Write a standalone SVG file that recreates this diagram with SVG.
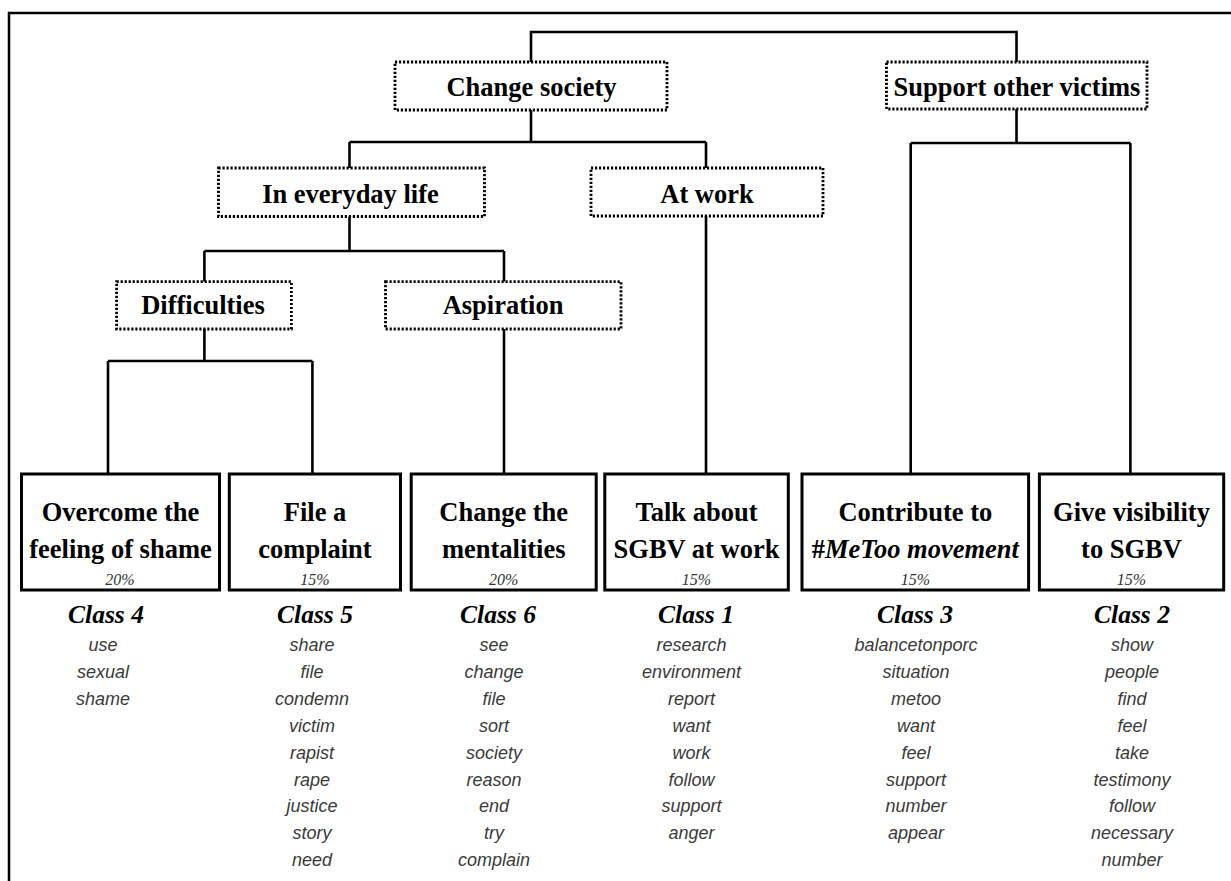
<svg xmlns="http://www.w3.org/2000/svg" width="1231" height="881" viewBox="0 0 1231 881">
<style>
.frame{fill:none;stroke:#000;stroke-width:2.5}
.con path{fill:none;stroke:#000;stroke-width:2.6}
.dot{fill:#fff;stroke:#000;stroke-width:2.8;stroke-dasharray:2.2 1.8}
.box{fill:#fff;stroke:#000;stroke-width:3}
.t{font-family:"Liberation Serif","Times New Roman",serif;font-weight:bold;font-size:26.5px;text-anchor:middle;fill:#000}
.pct{font-family:"Liberation Serif","Times New Roman",serif;font-style:italic;font-size:16px;text-anchor:middle;fill:#333}
.cls{font-family:"Liberation Serif","Times New Roman",serif;font-weight:bold;font-style:italic;font-size:25.5px;text-anchor:middle;fill:#000}
.w{font-family:"Liberation Sans",Arial,sans-serif;font-style:italic;font-size:18px;text-anchor:middle;fill:#3a3a3a}
</style>
<rect width="1231" height="881" fill="#fff"/>
<path class="frame" d="M9,881 V13 H1231"/>
<g id="connectors" class="con">
<path d="M531,62 V32 H1016.5 V62"/>
<path d="M531,110 V142 M349.5,142 H706 M349.5,142 V168 M706,142 V168"/>
<path d="M1016.5,109 V143 M910.7,143 H1130.4 M910.7,143 V474 M1130.4,143 V474"/>
<path d="M706,216 V474"/>
<path d="M349.5,216.5 V251 M204.4,251 H504 M204.4,251 V281.7 M504,251 V281.7"/>
<path d="M204.4,329 V361 M108,361 H312.4 M108,361 V474 M312.4,361 V474"/>
<path d="M504,329 V474"/>
</g>
<g id="change-society"><rect class="dot" x="395" y="62" width="272" height="48"/><text class="t" x="531.5" y="96">Change society</text></g>
<g id="support-other-victims"><rect class="dot" x="886.5" y="62" width="260.5" height="47"/><text class="t" x="1017" y="96">Support other victims</text></g>
<g id="in-everyday-life"><rect class="dot" x="218.5" y="168" width="266" height="48.5"/><text class="t" x="350.5" y="203">In everyday life</text></g>
<g id="at-work"><rect class="dot" x="591" y="168" width="232" height="48"/><text class="t" x="707" y="203">At work</text></g>
<g id="difficulties"><rect class="dot" x="116.6" y="281.7" width="174.8" height="47.3"/><text class="t" x="203" y="314">Difficulties</text></g>
<g id="aspiration"><rect class="dot" x="385.5" y="281.7" width="235.5" height="47.3"/><text class="t" x="503" y="314">Aspiration</text></g>
<g id="class4">
<rect class="box" x="21.5" y="474" width="198" height="116"/>
<text class="t" x="120.5" y="521">Overcome the</text><text class="t" x="120.5" y="558">feeling of shame</text>
<text class="pct" x="120" y="585">20%</text>
<text class="cls" x="106" y="623">Class 4</text>
<text class="w" x="103" y="651"><tspan x="103">use</tspan><tspan x="103" dy="26.9">sexual</tspan><tspan x="103" dy="26.9">shame</tspan></text>
</g>
<g id="class5">
<rect class="box" x="229.3" y="474" width="171.2" height="116"/>
<text class="t" x="315" y="521">File a</text><text class="t" x="315" y="558">complaint</text>
<text class="pct" x="315" y="585">15%</text>
<text class="cls" x="315" y="623">Class 5</text>
<text class="w" x="312" y="651"><tspan x="312">share</tspan><tspan x="312" dy="26.9">file</tspan><tspan x="312" dy="26.9">condemn</tspan><tspan x="312" dy="26.9">victim</tspan><tspan x="312" dy="26.9">rapist</tspan><tspan x="312" dy="26.9">rape</tspan><tspan x="312" dy="26.9">justice</tspan><tspan x="312" dy="26.9">story</tspan><tspan x="312" dy="26.9">need</tspan></text>
</g>
<g id="class6">
<rect class="box" x="411.2" y="474" width="185" height="116"/>
<text class="t" x="503.7" y="521">Change the</text><text class="t" x="503.7" y="558">mentalities</text>
<text class="pct" x="503.7" y="585">20%</text>
<text class="cls" x="498" y="623">Class 6</text>
<text class="w" x="494" y="651"><tspan x="494">see</tspan><tspan x="494" dy="26.9">change</tspan><tspan x="494" dy="26.9">file</tspan><tspan x="494" dy="26.9">sort</tspan><tspan x="494" dy="26.9">society</tspan><tspan x="494" dy="26.9">reason</tspan><tspan x="494" dy="26.9">end</tspan><tspan x="494" dy="26.9">try</tspan><tspan x="494" dy="26.9">complain</tspan></text>
</g>
<g id="class1">
<rect class="box" x="604.8" y="474" width="183.5" height="116"/>
<text class="t" x="696.5" y="521">Talk about</text><text class="t" x="696.5" y="558">SGBV at work</text>
<text class="pct" x="696.5" y="585">15%</text>
<text class="cls" x="696" y="623">Class 1</text>
<text class="w" x="691.5" y="651"><tspan x="691.5">research</tspan><tspan x="691.5" dy="26.9">environment</tspan><tspan x="691.5" dy="26.9">report</tspan><tspan x="691.5" dy="26.9">want</tspan><tspan x="691.5" dy="26.9">work</tspan><tspan x="691.5" dy="26.9">follow</tspan><tspan x="691.5" dy="26.9">support</tspan><tspan x="691.5" dy="26.9">anger</tspan></text>
</g>
<g id="class3">
<rect class="box" x="802" y="474" width="226.6" height="116"/>
<text class="t" x="915.3" y="521">Contribute to</text><text class="t" x="915.3" y="558">#<tspan font-style="italic">MeToo movement</tspan></text>
<text class="pct" x="915.3" y="585">15%</text>
<text class="cls" x="915" y="623">Class 3</text>
<text class="w" x="916" y="651"><tspan x="916">balancetonporc</tspan><tspan x="916" dy="26.9">situation</tspan><tspan x="916" dy="26.9">metoo</tspan><tspan x="916" dy="26.9">want</tspan><tspan x="916" dy="26.9">feel</tspan><tspan x="916" dy="26.9">support</tspan><tspan x="916" dy="26.9">number</tspan><tspan x="916" dy="26.9">appear</tspan></text>
</g>
<g id="class2">
<rect class="box" x="1039.4" y="474" width="184.3" height="116"/>
<text class="t" x="1131.5" y="521">Give visibility</text><text class="t" x="1131.5" y="558">to SGBV</text>
<text class="pct" x="1131.5" y="585">15%</text>
<text class="cls" x="1132" y="623">Class 2</text>
<text class="w" x="1132" y="651"><tspan x="1132">show</tspan><tspan x="1132" dy="26.9">people</tspan><tspan x="1132" dy="26.9">find</tspan><tspan x="1132" dy="26.9">feel</tspan><tspan x="1132" dy="26.9">take</tspan><tspan x="1132" dy="26.9">testimony</tspan><tspan x="1132" dy="26.9">follow</tspan><tspan x="1132" dy="26.9">necessary</tspan><tspan x="1132" dy="26.9">number</tspan></text>
</g>
</svg>
